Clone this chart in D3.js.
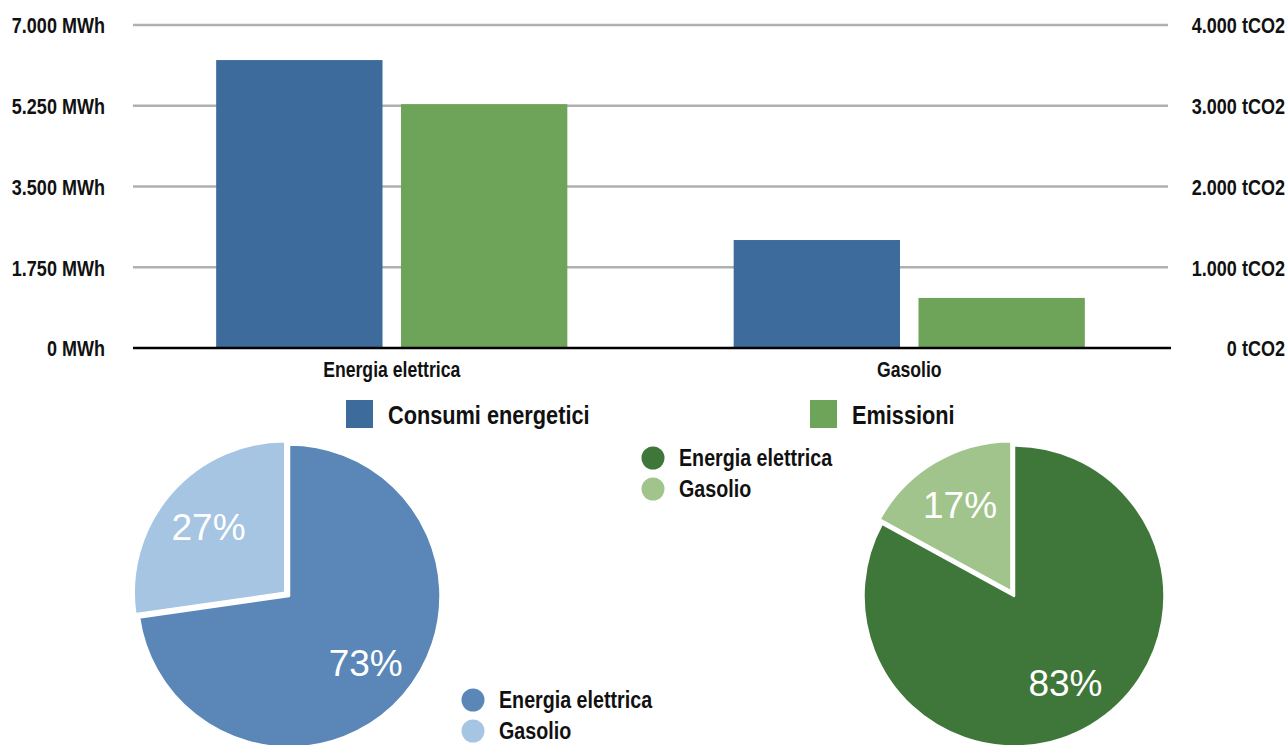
<!DOCTYPE html>
<html>
<head>
<meta charset="utf-8">
<script src="https://cdn.jsdelivr.net/npm/d3@7"></script>
<style>
  html, body { margin: 0; padding: 0; background: #fff; }
  svg { display: block; }
  .cond { font-family: "Liberation Sans", Arial, Helvetica, sans-serif; font-weight: bold; fill: #111; }
  .pct { font-family: "Liberation Sans", Arial, Helvetica, sans-serif; fill: #fff; }
</style>
</head>
<body>
<svg id="chart" width="1288" height="745"></svg>
<script>
// Energy use and CO2 emissions by source
const categories = ["Energia elettrica", "Gasolio"];
const consumiMWh = [6240, 2340];     // Consumi energetici (MWh)
const emissioniT = [3020, 620];      // Emissioni (tCO2)
const leftTicks = [0, 1750, 3500, 5250, 7000];
const rightTicks = [0, 1000, 2000, 3000, 4000];
const seriesNames = ["Consumi energetici", "Emissioni"];

const barColors = ["#3d6b9b", "#6ea45a"];
const bluePie = ["#5a87b8", "#a5c5e2"];
const greenPie = ["#3f773a", "#a1c48c"];

const it = d3.formatLocale({ decimal: ",", thousands: ".", grouping: [3], currency: ["", " €"] });
const fmt = it.format(",d");

const svg = d3.select("#chart");

// condensed look: squeeze bold text horizontally around its anchor point
const SQUEEZE = 0.82;
function condense(sel) {
  sel.each(function () {
    const t = d3.select(this);
    const x = +t.attr("x") || 0, y = +t.attr("y") || 0;
    t.attr("x", 0).attr("y", 0)
      .attr("transform", `translate(${x},${y}) scale(${SQUEEZE},1)`);
  });
}

// ---- bar chart ----
const plot = { left: 133, right: 1168, top: 25, bottom: 348 };
const yL = d3.scaleLinear().domain([0, 7000]).range([plot.bottom, plot.top]);
const yR = d3.scaleLinear().domain([0, 4000]).range([plot.bottom, plot.top]);
const x0 = d3.scaleBand().domain(categories).range([plot.left, plot.right]);
const x1 = d3.scaleBand().domain(seriesNames).range([0, x0.bandwidth()])
  .paddingInner(0.1).paddingOuter(0.45);

// gridlines
svg.append("g").selectAll("line")
  .data(leftTicks.filter(d => d > 0))
  .join("line")
  .attr("x1", plot.left).attr("x2", plot.right)
  .attr("y1", d => yL(d)).attr("y2", d => yL(d))
  .attr("stroke", "#b0b0b0").attr("stroke-width", 2.5);

// bars
const groups = svg.append("g").selectAll("g")
  .data(categories)
  .join("g")
  .attr("transform", d => `translate(${x0(d)},0)`);

groups.append("rect")
  .attr("x", x1(seriesNames[0]))
  .attr("width", x1.bandwidth())
  .attr("y", (d, i) => yL(consumiMWh[i]))
  .attr("height", (d, i) => yL(0) - yL(consumiMWh[i]))
  .attr("fill", barColors[0]);

groups.append("rect")
  .attr("x", x1(seriesNames[1]))
  .attr("width", x1.bandwidth())
  .attr("y", (d, i) => yR(emissioniT[i]))
  .attr("height", (d, i) => yR(0) - yR(emissioniT[i]))
  .attr("fill", barColors[1]);

// baseline
svg.append("line")
  .attr("x1", plot.left).attr("x2", plot.right + 3)
  .attr("y1", yL(0)).attr("y2", yL(0))
  .attr("stroke", "#000").attr("stroke-width", 2.5);

// left axis
const axL = svg.append("g").attr("transform", "translate(105,0)")
  .call(d3.axisLeft(yL).tickValues(leftTicks).tickSize(0).tickPadding(0)
    .tickFormat(d => fmt(d) + " MWh"));
axL.select(".domain").remove();
axL.selectAll("text").attr("class", "cond").style("font-size", "22px")
  .attr("text-anchor", "end").attr("dy", "0.36em").call(condense);

// right axis
const axR = svg.append("g").attr("transform", "translate(1285,0)")
  .call(d3.axisRight(yR).tickValues(rightTicks).tickSize(0).tickPadding(0)
    .tickFormat(d => fmt(d) + " tCO2"));
axR.select(".domain").remove();
axR.selectAll("text").attr("class", "cond").style("font-size", "22px")
  .attr("text-anchor", "end").attr("dy", "0.36em").call(condense);

// category labels
const axB = svg.append("g").attr("transform", `translate(0,${plot.bottom})`)
  .call(d3.axisBottom(x0).tickSize(0).tickPadding(0));
axB.select(".domain").remove();
axB.selectAll("text").attr("class", "cond").style("font-size", "21.5px")
  .attr("dy", null).attr("y", 29).call(condense);

// series legend
const legendPos = [{ x: 346, tx: 388 }, { x: 810, tx: 852 }];
seriesNames.forEach((name, i) => {
  svg.append("rect").attr("x", legendPos[i].x).attr("y", 400)
    .attr("width", 27).attr("height", 28).attr("fill", barColors[i]);
  svg.append("text").attr("class", "cond").style("font-size", "26.5px")
    .attr("x", legendPos[i].tx).attr("y", 423.5).text(name).call(condense);
});

// ---- pies ----
function drawPie(values, colors, cx, cy, r, explode) {
  const pie = d3.pie().sort(null).value(d => d)(values);
  const total = d3.sum(values);
  const arc = d3.arc().innerRadius(0).outerRadius(r);
  const labelArc = d3.arc().innerRadius(r * 0.67).outerRadius(r * 0.67);
  const g = svg.append("g").attr("transform", `translate(${cx},${cy})`);
  const slice = g.selectAll("g").data(pie).join("g")
    .attr("transform", (d, i) => {
      if (i === 0) return null;
      const a = (d.startAngle + d.endAngle) / 2;
      return `translate(${Math.sin(a) * explode},${-Math.cos(a) * explode})`;
    });
  slice.append("path").attr("d", arc)
    .attr("fill", (d, i) => colors[i])
    .attr("stroke", "#fff").attr("stroke-width", 2.5).attr("stroke-linejoin", "round");
  slice.append("text").attr("class", "pct")
    .attr("transform", d => `translate(${labelArc.centroid(d)})`)
    .attr("text-anchor", "middle").attr("dy", "0.36em")
    .style("font-size", "37px")
    .text(d => Math.round(d.value / total * 100) + "%");
}

drawPie(consumiMWh, bluePie, 289, 596, 151.5, 5);
drawPie(emissioniT, greenPie, 1014, 596, 150.5, 5);

// pie legends
function pieLegend(colors, x, y) {
  categories.forEach((c, i) => {
    svg.append("circle").attr("cx", x).attr("cy", y + i * 31).attr("r", 11.5)
      .attr("fill", colors[i]);
    svg.append("text").attr("class", "cond").style("font-size", "24px")
      .attr("x", x + 26).attr("y", y + i * 31 + 8).text(c).call(condense);
  });
}
pieLegend(greenPie, 653, 458);
pieLegend(bluePie, 473, 700);
</script>
</body>
</html>
